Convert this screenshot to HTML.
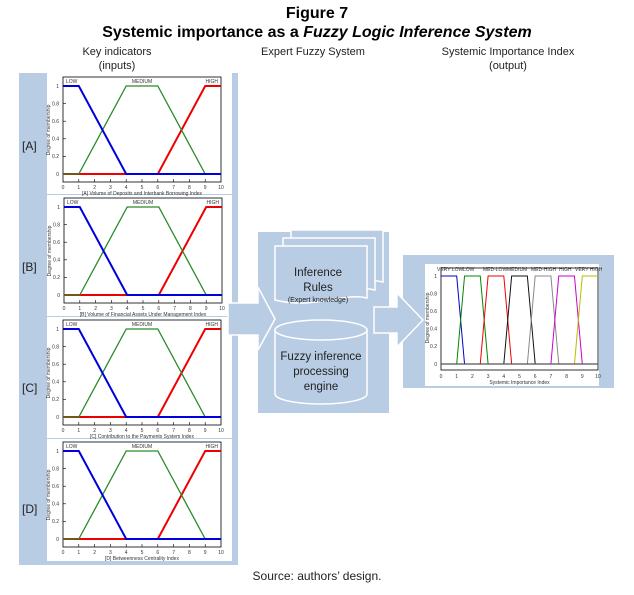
<!DOCTYPE html>
<html><head><meta charset="utf-8"><style>
body{margin:0;background:#fff;width:634px;height:595px;overflow:hidden}
svg{display:block}
.t{font-family:"Liberation Sans",sans-serif}
.c{font-family:"Liberation Sans",sans-serif}
.tk{font-family:"Liberation Sans",sans-serif;font-size:5px;fill:#333}
</style></head><body>
<svg width="634" height="595" viewBox="0 0 634 595" xmlns="http://www.w3.org/2000/svg">
<defs>
<g id="plot">
  <rect x="0" y="0" width="158" height="105" fill="none" stroke="#000" stroke-width="0.8"/>
  <g stroke="#000" stroke-width="0.6">
    <line x1="15.8" y1="105" x2="15.8" y2="102"/><line x1="31.6" y1="105" x2="31.6" y2="102"/><line x1="47.4" y1="105" x2="47.4" y2="102"/><line x1="63.2" y1="105" x2="63.2" y2="102"/><line x1="79" y1="105" x2="79" y2="102"/><line x1="94.8" y1="105" x2="94.8" y2="102"/><line x1="110.6" y1="105" x2="110.6" y2="102"/><line x1="126.4" y1="105" x2="126.4" y2="102"/><line x1="142.2" y1="105" x2="142.2" y2="102"/>
    <line x1="0" y1="9" x2="3" y2="9"/><line x1="0" y1="26.6" x2="3" y2="26.6"/><line x1="0" y1="44.2" x2="3" y2="44.2"/><line x1="0" y1="61.8" x2="3" y2="61.8"/><line x1="0" y1="79.4" x2="3" y2="79.4"/><line x1="0" y1="97" x2="3" y2="97"/>
  </g>
  <polyline points="0,97 94.8,97 142.2,9 158,9" fill="none" stroke="#e00" stroke-width="2"/>
  <polyline points="0,97 15.8,97 63.2,9 94.8,9 142.2,97 158,97" fill="none" stroke="#2a8a2a" stroke-width="1.3"/>
  <polyline points="0,9 15.8,9 63.2,97 158,97" fill="none" stroke="#00d" stroke-width="2"/>
  <text class="tk" x="3" y="6">LOW</text>
  <text class="tk" x="79" y="6" text-anchor="middle">MEDIUM</text>
  <text class="tk" x="155" y="6" text-anchor="end">HIGH</text>
  <g class="tk" text-anchor="end">
    <text x="-4" y="11">1</text><text x="-4" y="28.5">0.8</text><text x="-4" y="46">0.6</text><text x="-4" y="63.5">0.4</text><text x="-4" y="81">0.2</text><text x="-4" y="99">0</text>
  </g>
  <g class="tk" text-anchor="middle">
    <text x="0" y="112">0</text><text x="15.8" y="112">1</text><text x="31.6" y="112">2</text><text x="47.4" y="112">3</text><text x="63.2" y="112">4</text><text x="79" y="112">5</text><text x="94.8" y="112">6</text><text x="110.6" y="112">7</text><text x="126.4" y="112">8</text><text x="142.2" y="112">9</text><text x="158" y="112">10</text>
  </g>
  <text class="tk" transform="translate(-13,53) rotate(-90)" text-anchor="middle">Degree of membership</text>
</g>
</defs>

<text class="t" x="317" y="18" text-anchor="middle" font-size="16" font-weight="bold">Figure 7</text>
<text class="t" x="317" y="37" text-anchor="middle" font-size="16" font-weight="bold">Systemic importance as a <tspan font-style="italic">Fuzzy Logic Inference System</tspan></text>
<g class="c" font-size="11" fill="#222" text-anchor="middle">
<text x="117" y="55">Key indicators</text><text x="117" y="69">(inputs)</text>
<text x="313" y="55">Expert Fuzzy System</text>
<text x="508" y="55">Systemic Importance Index</text><text x="508" y="69">(output)</text>
</g>

<rect x="19" y="73" width="219" height="492" fill="#b8cce4"/>
<g fill="#fff">
<rect x="47" y="73" width="185" height="121"/>
<rect x="47" y="195" width="185" height="121"/>
<rect x="47" y="317" width="185" height="121"/>
<rect x="47" y="439" width="185" height="122"/>
</g>
<g class="c" font-size="12" fill="#222">
<text x="22" y="150">[A]</text><text x="22" y="271">[B]</text><text x="22" y="392">[C]</text><text x="22" y="513">[D]</text>
</g>
<g transform="translate(63,77)"><use href="#plot"/><text class="tk" x="79" y="118" text-anchor="middle">[A] Volume of Deposits and Interbank Borrowing Index</text></g>
<g transform="translate(64,198)"><use href="#plot"/><text class="tk" x="79" y="118" text-anchor="middle">[B] Volume of Financial Assets Under Management Index</text></g>
<g transform="translate(63,320)"><use href="#plot"/><text class="tk" x="79" y="118" text-anchor="middle">[C] Contribution to the Payments System Index</text></g>
<g transform="translate(63,442)"><use href="#plot"/><text class="tk" x="79" y="118" text-anchor="middle">[D] Betweenness Centrality Index</text></g>

<!-- middle -->
<rect x="258" y="232" width="131" height="181" fill="#b8cce4"/>
<polygon points="228,303 258,303 258,287 275,319 258,350 258,335 228,335" fill="#b8cce4" stroke="#fff" stroke-width="1.5"/>
<g fill="#b8cce4" stroke="#fff" stroke-width="1.5">
<path d="M291,230 H383 V282 C360,276 330,294 291,284 Z"/>
<path d="M283,238 H375 V290 C352,284 322,302 283,292 Z"/>
<path d="M275,246 H367 V298 C344,292 314,310 275,300 Z"/>
<path d="M275,330 V394 A46,10 0 0 0 367,394 V330"/>
<ellipse cx="321" cy="330" rx="46" ry="10"/>
</g>
<g class="c" fill="#222" text-anchor="middle">
<text x="318" y="276" font-size="11.5">Inference</text>
<text x="318" y="291" font-size="11.5">Rules</text>
<text x="318" y="302" font-size="7">(Expert knowledge)</text>
<text x="321" y="360" font-size="11.5">Fuzzy inference</text>
<text x="321" y="375" font-size="11.5">processing</text>
<text x="321" y="390" font-size="11.5">engine</text>
</g>

<!-- right -->
<rect x="403" y="255" width="211" height="133" fill="#b8cce4"/>
<g transform="translate(441,268)">
  <rect x="-16" y="-4" width="174" height="122" fill="#fff"/>
  <rect x="0" y="0" width="157" height="102" fill="none" stroke="#000" stroke-width="0.8"/>
  <polyline points="0,8 15.7,8 23.55,96 157,96" fill="none" stroke="#00c" stroke-width="1"/>
  <polyline points="15.7,96 23.55,8 39.25,8 47.1,96" fill="none" stroke="#080" stroke-width="1"/>
  <polyline points="39.25,96 47.1,8 62.8,8 70.65,96" fill="none" stroke="#e00" stroke-width="1"/>
  <polyline points="62.8,96 70.65,8 86.35,8 94.2,96" fill="none" stroke="#111" stroke-width="1"/>
  <polyline points="86.35,96 94.2,8 109.9,8 117.75,96" fill="none" stroke="#888" stroke-width="1"/>
  <polyline points="109.9,96 117.75,8 133.45,8 141.3,96" fill="none" stroke="#c0c" stroke-width="1"/>
  <polyline points="133.45,96 141.3,8 157,8" fill="none" stroke="#bb0" stroke-width="1"/>
  <line x1="0" y1="96" x2="157" y2="96" stroke="#555" stroke-width="1.2"/>
  <g class="tk" font-size="4.6">
    <text x="-4" y="3">VERY LOW</text><text x="22" y="3">LOW</text><text x="42" y="3">MED-LOW</text><text x="66" y="3">MEDIUM</text><text x="90" y="3">MED-HIGH</text><text x="118" y="3">HIGH</text><text x="134" y="3">VERY HIGH</text>
  </g>
  <g class="tk" text-anchor="end">
    <text x="-4" y="10">1</text><text x="-4" y="27.5">0.8</text><text x="-4" y="45">0.6</text><text x="-4" y="62.5">0.4</text><text x="-4" y="80">0.2</text><text x="-4" y="98">0</text>
  </g>
  <g class="tk" text-anchor="middle">
    <text x="0" y="110">0</text><text x="15.7" y="110">1</text><text x="31.4" y="110">2</text><text x="47.1" y="110">3</text><text x="62.8" y="110">4</text><text x="78.5" y="110">5</text><text x="94.2" y="110">6</text><text x="109.9" y="110">7</text><text x="125.6" y="110">8</text><text x="141.3" y="110">9</text><text x="157" y="110">10</text>
  </g>
  <text class="tk" x="78.5" y="116" text-anchor="middle">Systemic Importance Index</text>
  <text class="tk" transform="translate(-12,50) rotate(-90)" text-anchor="middle">Degree of membership</text>
</g>
<polygon points="374,307 397,307 397,293 423,320 397,347 397,333 374,333" fill="#b8cce4" stroke="#fff" stroke-width="1.5"/>

<text class="t" x="317" y="580" text-anchor="middle" font-size="12" fill="#222">Source: authors’ design.</text>
</svg>
</body></html>
